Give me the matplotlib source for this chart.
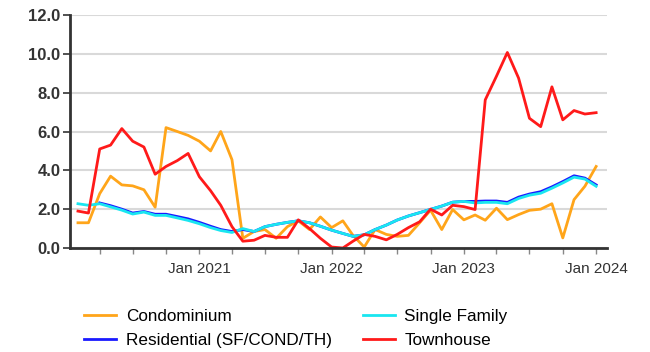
import numpy as np
import pandas as pd
import matplotlib
matplotlib.use("Agg")
import matplotlib.pyplot as plt
import matplotlib.dates as mdates

plt.rcParams["font.family"] = ["Liberation Sans", "DejaVu Sans"]

months = pd.date_range("2020-02-01", "2024-01-01", freq="MS")

condo = [1.3, 1.3, 2.8, 3.7, 3.25, 3.2, 3.0, 2.1, 6.2, 6.0, 5.8, 5.5,
         5.0, 6.0, 4.55, 0.5, 0.85, 0.95, 0.5, 1.1, 1.4, 0.95, 1.6, 1.05,
         1.4, 0.65, 0.05, 0.95, 0.7, 0.6, 0.65, 1.3, 1.95, 0.95, 1.98, 1.45,
         1.7, 1.43, 2.05, 1.46, 1.72, 1.94, 2.0, 2.28, 0.52, 2.49, 3.18, 4.2]

single_family = [2.28, 2.2, 2.28, 2.12, 1.95, 1.75, 1.85, 1.68, 1.68, 1.55, 1.42, 1.25,
                 1.05, 0.9, 0.8, 1.0, 0.85, 1.1, 1.22, 1.32, 1.4, 1.3, 1.12, 0.92,
                 0.75, 0.6, 0.68, 0.95, 1.18, 1.44, 1.65, 1.82, 1.99, 2.16, 2.36, 2.4,
                 2.32, 2.35, 2.35, 2.28, 2.55, 2.72, 2.82, 3.08, 3.35, 3.65, 3.55, 3.18]

residential = [np.nan, np.nan, 2.32, 2.18, 2.0, 1.8, 1.88, 1.74, 1.74, 1.62, 1.5, 1.32,
               1.12, 0.95, 0.85, 0.95, 0.85, 1.1, 1.22, 1.32, 1.4, 1.3, 1.12, 0.92,
               0.75, 0.6, 0.68, 0.95, 1.18, 1.44, 1.65, 1.82, 1.99, 2.16, 2.36, 2.4,
               2.4, 2.42, 2.42, 2.35, 2.62, 2.78, 2.9, 3.15, 3.42, 3.72, 3.6, 3.25]

townhouse = [1.9, 1.8, 5.1, 5.3, 6.15, 5.5, 5.2, 3.8, 4.2, 4.5, 4.87, 3.67,
             2.95, 2.2, 1.1, 0.35, 0.4, 0.65, 0.55, 0.55, 1.45, 1.0, 0.5, 0.05,
             0.0, 0.35, 0.7, 0.6, 0.42, 0.7, 1.05, 1.35, 2.0, 1.7, 2.2, 2.13,
             1.98, 7.63, 8.85, 10.07, 8.75, 6.68, 6.25, 8.3, 6.6, 7.08, 6.9, 6.97]

fig = plt.figure(figsize=(6.5, 3.52), dpi=100)
ax = fig.add_axes([70/650, 1-248/352, 537/650, 233/352])

lw = 2.0
ax.plot(months, condo, color="#ffa51a", lw=lw, label="Condominium")
ax.plot(months, residential, color="#1a1aff", lw=lw, label="Residential (SF/COND/TH)")
ax.plot(months, single_family, color="#19e6f0", lw=lw, label="Single Family")
ax.plot(months, townhouse, color="#ff1a1a", lw=lw, label="Townhouse")

ax.set_ylim(0, 12)
ax.set_yticks(np.arange(0, 13, 2))
ax.yaxis.set_major_formatter(matplotlib.ticker.FormatStrFormatter("%.1f"))
ax.set_xlim(pd.Timestamp("2020-01-10"), pd.Timestamp("2024-01-31"))
ax.xaxis.set_major_locator(mdates.MonthLocator(bymonth=1))
ax.xaxis.set_major_formatter(mdates.DateFormatter("Jan %Y"))
ax.xaxis.set_minor_locator(mdates.MonthLocator(bymonth=[1, 4, 7, 10]))

ax.grid(axis="y", color="#d9d9d9", lw=1.5)
ax.set_axisbelow(True)
for s in ["top", "right"]:
    ax.spines[s].set_visible(False)
for s in ["left", "bottom"]:
    ax.spines[s].set_linewidth(2.0)
    ax.spines[s].set_color("#333333")

ax.tick_params(axis="y", labelsize=12, colors="#333333", length=5, width=1.2, pad=2)
for lbl in ax.get_yticklabels():
    lbl.set_fontweight("semibold")
ax.tick_params(axis="x", which="both", labelsize=11, labelcolor="#333333",
               color="#888888", length=4, width=1, pad=6)

fig.legend(loc="upper left", bbox_to_anchor=(84/650, 1-309/352), ncol=2,
           frameon=False, fontsize=12.3, handlelength=1.9, handletextpad=0.55,
           columnspacing=1.8, labelspacing=0.5, borderpad=0, borderaxespad=0)

fig.savefig("out.png", dpi=100, facecolor="white")
